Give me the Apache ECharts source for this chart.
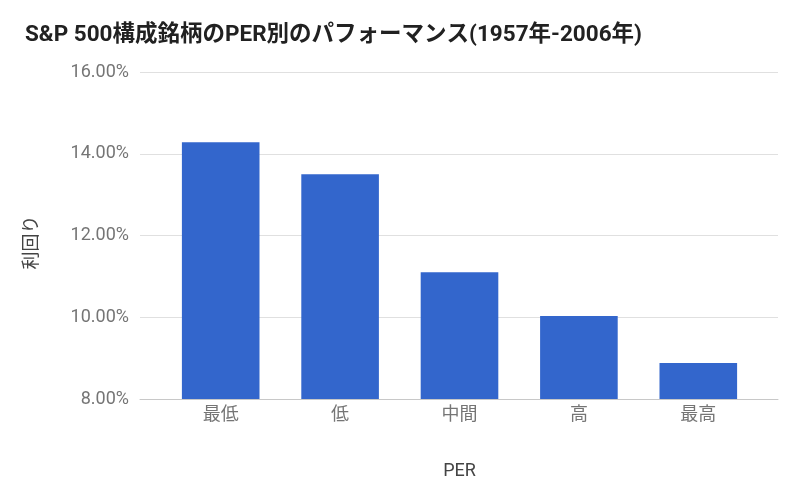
<!DOCTYPE html>
<html>
<head>
<meta charset="utf-8">
<script src="https://cdn.jsdelivr.net/npm/echarts@6/dist/echarts.min.js"></script>
<style>html,body{margin:0;padding:0;background:#fff;}#c{width:800px;height:495px;}</style>
</head>
<body>
<div id="c"></div>
<script>
const categories = ['最低', '低', '中間', '高', '最高'];
const returns = [14.28, 13.50, 11.10, 10.03, 8.88];
const yTicks = { min: 8, max: 16, interval: 2 };
const titleText = 'S&P 500構成銘柄のPER別のパフォーマンス(1957年-2006年)';

const FONT = "Roboto, 'Noto Sans CJK JP', sans-serif";
const chart = echarts.init(document.getElementById('c'));
chart.setOption({
  backgroundColor: '#fff',
  animation: false,
  textStyle: { fontFamily: FONT },
  title: {
    text: titleText, left: 20, top: 19,
    textStyle: { fontSize: 22.5, fontWeight: 'bold', color: '#212121', fontFamily: FONT }
  },
  grid: [
    { left: 140, right: 22, top: 72, bottom: 96 },
    { left: 161, right: 42, top: 72, bottom: 96 }
  ],
  xAxis: [
    { gridIndex: 0, type: 'category', data: categories,
      axisLine: { show: true, lineStyle: { color: '#c8c8c8' } },
      axisTick: { show: false }, axisLabel: { show: false }, splitLine: { show: false } },
    { gridIndex: 1, type: 'category', data: categories,
      axisLine: { show: false }, axisTick: { show: false },
      axisLabel: { color: '#757575', fontSize: 18, margin: 8, fontFamily: FONT },
      name: 'PER', nameLocation: 'middle', nameGap: 64,
      nameTextStyle: { color: '#444', fontSize: 18, fontFamily: FONT } }
  ],
  yAxis: [
    { gridIndex: 0, type: 'value', min: yTicks.min, max: yTicks.max, interval: yTicks.interval,
      axisLine: { show: false }, axisTick: { show: false },
      axisLabel: { color: '#757575', fontSize: 18, margin: 11, fontFamily: FONT,
        formatter: v => v.toFixed(2) + '%' },
      splitLine: { lineStyle: { color: '#e0e0e0' } },
      name: '利回り', nameLocation: 'middle', nameGap: 99,
      nameTextStyle: { color: '#444', fontSize: 18, fontFamily: FONT, padding: [0, 14, 0, 0] } },
    { gridIndex: 1, type: 'value', min: yTicks.min, max: yTicks.max, interval: yTicks.interval,
      show: false, splitLine: { show: false } }
  ],
  series: [{
    type: 'bar', xAxisIndex: 1, yAxisIndex: 1,
    data: returns, barCategoryGap: '35%',
    itemStyle: { color: '#3366cc' }
  }]
});
</script>
</body>
</html>
